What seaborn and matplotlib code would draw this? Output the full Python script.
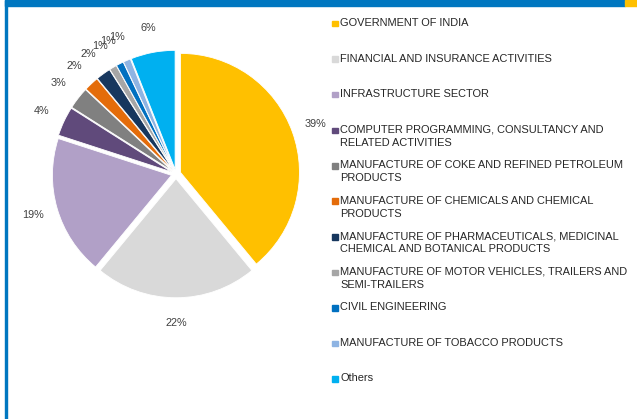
import matplotlib
matplotlib.use("Agg")
import matplotlib.pyplot as plt
from matplotlib.patches import Rectangle
import seaborn as sns

# Dados do gráfico
SECTORS = [
    "GOVERNMENT OF INDIA",
    "FINANCIAL AND INSURANCE ACTIVITIES",
    "INFRASTRUCTURE SECTOR",
    "COMPUTER PROGRAMMING, CONSULTANCY AND\nRELATED ACTIVITIES",
    "MANUFACTURE OF COKE AND REFINED PETROLEUM\nPRODUCTS",
    "MANUFACTURE OF CHEMICALS AND CHEMICAL\nPRODUCTS",
    "MANUFACTURE OF PHARMACEUTICALS, MEDICINAL\nCHEMICAL AND BOTANICAL PRODUCTS",
    "MANUFACTURE OF MOTOR VEHICLES, TRAILERS AND\nSEMI-TRAILERS",
    "CIVIL ENGINEERING",
    "MANUFACTURE OF TOBACCO PRODUCTS",
    "Others",
]
SHARES = [39, 22, 19, 4, 3, 2, 2, 1, 1, 1, 6]
COLORS = ["#FFC000", "#D9D9D9", "#B1A0C7", "#604A7B", "#808080", "#E46C0A",
          "#17375E", "#A6A6A6", "#0070C0", "#8EB4E3", "#00B0F0"]

sns.set_theme(style="white")
plt.rcParams['font.family'] = ['Liberation Sans', 'DejaVu Sans']

W, H = 637, 419
fig = plt.figure(figsize=(W / 100, H / 100), dpi=100)

# Moldura azul (barra superior e borda esquerda)
fig.patches.append(Rectangle((5 / W, 1 - 6 / H), 620 / W, 6 / H,
                             transform=fig.transFigure, color="#0077C0", zorder=0))
fig.patches.append(Rectangle((625 / W, 1 - 6 / H), 12 / W, 6 / H,
                             transform=fig.transFigure, color="#FFC000", zorder=0))
fig.patches.append(Rectangle((5 / W, 0), 2 / W, 1,
                             transform=fig.transFigure, color="#0077C0", zorder=0))

# Pizza
r_px = 119
cx, cy = 176, 174
side = 2.6 * r_px
ax = fig.add_axes([(cx - side / 2) / W, (H - cy - side / 2) / H, side / W, side / H])
palette = sns.color_palette(COLORS)
wedges, texts, autotexts = ax.pie(
    SHARES, colors=palette, startangle=90, counterclock=False,
    explode=[0.04] * len(SHARES), autopct='%.0f%%', pctdistance=1.21,
    wedgeprops=dict(edgecolor="white", linewidth=0.6),
    textprops=dict(fontsize=7.8, color="#404040"))
ax.set_xlim(-1.3, 1.3)
ax.set_ylim(-1.3, 1.3)
ax.set_aspect('equal')
ax.axis('off')

# Legenda manual (primeira linha alinhada ao marcador)
y0, step = 24, 35.5
for i, (label, col) in enumerate(zip(SECTORS, COLORS)):
    y = y0 + i * step
    fig.patches.append(Rectangle((332 / W, 1 - (y + 2.5) / H), 5.5 / W, 5.5 / H,
                                 transform=fig.transFigure, color=col))
    fig.text(340 / W, 1 - (y - 6) / H, label, fontsize=7.9, color="#262626",
             va='top', ha='left', linespacing=1.4)

fig.savefig("out.png", dpi=100)
